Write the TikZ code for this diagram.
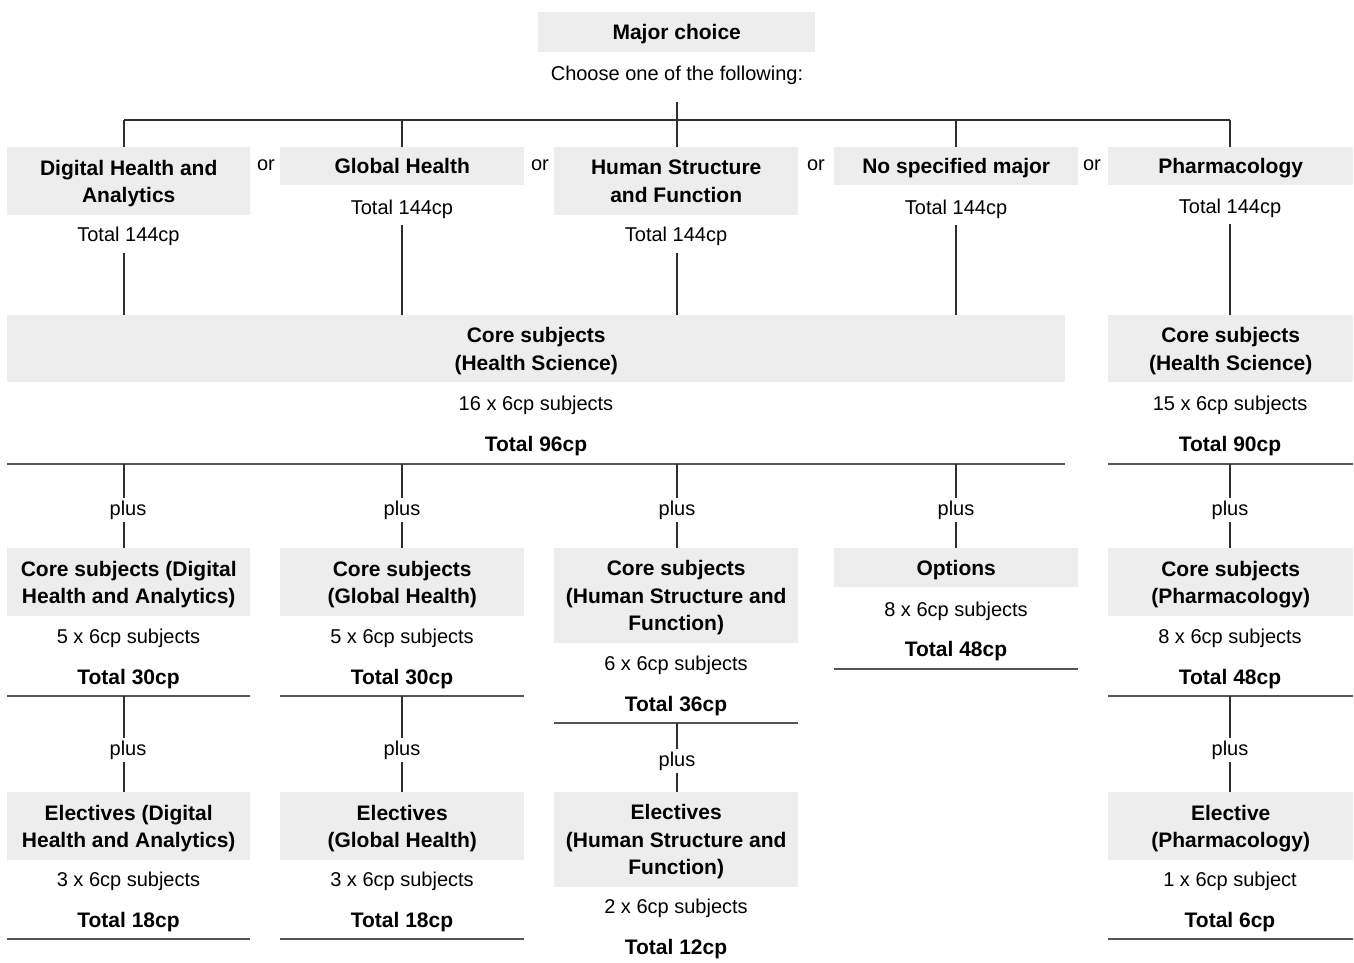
\documentclass[tikz,border=0pt]{standalone}
\usepackage{fontspec}
\setmainfont{Liberation Sans}
\usetikzlibrary{calc}
\definecolor{boxgray}{HTML}{EDEDED}
\definecolor{linec}{HTML}{2E2E2E}
\definecolor{rulec}{HTML}{555555}
\begin{document}
\begin{tikzpicture}[x=1pt,y=-1pt,
  box/.style={fill=boxgray, inner sep=0pt, anchor=north west, align=center, text depth=0pt,
    font=\fontsize{21}{27.5}\selectfont\bfseries, text=black},
  txt/.style={inner sep=0pt, text depth=0pt, font=\fontsize{20}{24}\selectfont, anchor=center},
  btxt/.style={inner sep=0pt, text depth=0pt, font=\fontsize{21}{24}\selectfont\bfseries, anchor=center},
  plusl/.style={inner xsep=0pt, inner ysep=2pt, font=\fontsize{20}{24}\selectfont, anchor=center},
  conn/.style={draw=linec, line width=1.2pt},
  rulel/.style={draw=rulec, line width=1.6pt}
]
\useasboundingbox (0,0) rectangle (1354,963);
% column x positions for connectors
\coordinate (X1) at (124,0);
\coordinate (X2) at (402,0);
\coordinate (X3) at (677,0);
\coordinate (X4) at (956,0);
\coordinate (X5) at (1230,0);

% top
\node[box, minimum width=277, minimum height=40] (major) at (538,12) {Major choice};
\node[txt] (choose) at (677,73) {Choose one of the following:};
\coordinate (topstart) at (677,102);
\coordinate (junction) at (677,120);

% row 1
\node[box, minimum width=243, minimum height=68] (dha) at (7,147) {Digital Health and\\Analytics};
\node[box, minimum width=244, minimum height=38] (gh) at (280,147) {Global Health};
\node[box, minimum width=244, minimum height=68] (hsf) at (554,147) {Human Structure\\and Function};
\node[box, minimum width=244, minimum height=38] (nsm) at (834,147) {No specified major};
\node[box, minimum width=245, minimum height=38] (ph) at (1108,147) {Pharmacology};
\node[txt] (t1) at (128.5,234) {Total 144cp};
\node[txt] (t2) at (402,207) {Total 144cp};
\node[txt] (t3) at (676,234) {Total 144cp};
\node[txt] (t4) at (956,207) {Total 144cp};
\node[txt] (t5) at (1230,206) {Total 144cp};
\node[txt] (or1) at (266,165) {or};
\node[txt] (or2) at (540,165) {or};
\node[txt] (or3) at (816,165) {or};
\node[txt] (or4) at (1092,165) {or};

\draw[conn] (topstart) -- (junction);
\draw[conn] (X1 |- junction) -- (X5 |- junction);
\draw[conn] (X1 |- junction) -- (X1 |- dha.north);
\draw[conn] (X2 |- junction) -- (X2 |- gh.north);
\draw[conn] (X3 |- junction) -- (X3 |- hsf.north);
\draw[conn] (X4 |- junction) -- (X4 |- nsm.north);
\draw[conn] (X5 |- junction) -- (X5 |- ph.north);

% row 2
\node[box, minimum width=1058, minimum height=67] (core) at (7,315) {Core subjects\\(Health Science)};
\node[box, minimum width=245, minimum height=67] (corep) at (1108,315) {Core subjects\\(Health Science)};
\node[txt] (coren) at (536,403) {16 x 6cp subjects};
\node[btxt] (coret) at (536,444) {Total 96cp};
\node[txt] (corepn) at (1230,403) {15 x 6cp subjects};
\node[btxt] (corept) at (1230,444) {Total 90cp};
\coordinate (r2a) at (7,464); \coordinate (r2b) at (1065,464);
\coordinate (r2c) at (1108,464); \coordinate (r2d) at (1353,464);
\draw[rulel] (r2a) -- (r2b);
\draw[rulel] (r2c) -- (r2d);

\draw[conn] ($(X1 |- t1.south)+(0,12)$) -- (X1 |- core.north);
\draw[conn] ($(X2 |- t2.south)+(0,11)$) -- (X2 |- core.north);
\draw[conn] ($(X3 |- t3.south)+(0,12)$) -- (X3 |- core.north);
\draw[conn] ($(X4 |- t4.south)+(0,11)$) -- (X4 |- core.north);
\draw[conn] ($(X5 |- t5.south)+(0,11)$) -- (X5 |- corep.north);

% row 3
\node[box, minimum width=243, minimum height=68] (a3) at (7,548) {Core subjects (Digital\\Health and Analytics)};
\node[box, minimum width=244, minimum height=68] (b3) at (280,548) {Core subjects\\(Global Health)};
\node[box, minimum width=244, minimum height=95] (c3) at (554,548) {Core subjects\\(Human Structure and\\Function)};
\node[box, minimum width=244, minimum height=39] (d3) at (834,548) {Options};
\node[box, minimum width=245, minimum height=68] (e3) at (1108,548) {Core subjects\\(Pharmacology)};
\node[txt] (a3n) at (128.5,636) {5 x 6cp subjects};
\node[btxt] (a3t) at (128.5,677) {Total 30cp};
\node[txt] (b3n) at (402,636) {5 x 6cp subjects};
\node[btxt] (b3t) at (402,677) {Total 30cp};
\node[txt] (c3n) at (676,663) {6 x 6cp subjects};
\node[btxt] (c3t) at (676,704) {Total 36cp};
\node[txt] (d3n) at (956,609) {8 x 6cp subjects};
\node[btxt] (d3t) at (956,649) {Total 48cp};
\node[txt] (e3n) at (1230,636) {8 x 6cp subjects};
\node[btxt] (e3t) at (1230,677) {Total 48cp};
\coordinate (ra1) at (7,696); \coordinate (ra2) at (250,696);
\coordinate (rb1) at (280,696); \coordinate (rb2) at (524,696);
\coordinate (rc1) at (554,723); \coordinate (rc2) at (798,723);
\coordinate (rd1) at (834,669); \coordinate (rd2) at (1078,669);
\coordinate (re1) at (1108,696); \coordinate (re2) at (1353,696);
\draw[rulel] (ra1) -- (ra2);
\draw[rulel] (rb1) -- (rb2);
\draw[rulel] (rc1) -- (rc2);
\draw[rulel] (rd1) -- (rd2);
\draw[rulel] (re1) -- (re2);

% plus row 2->3
\node[plusl] (p1) at (128,510) {plus};
\node[plusl] (p2) at (402,510) {plus};
\node[plusl] (p3) at (677,510) {plus};
\node[plusl] (p4) at (956,510) {plus};
\node[plusl] (p5) at (1230,510) {plus};
\draw[conn] (X1 |- r2a) -- (X1 |- p1.north) (X1 |- p1.south) -- (X1 |- a3.north);
\draw[conn] (X2 |- r2a) -- (X2 |- p2.north) (X2 |- p2.south) -- (X2 |- b3.north);
\draw[conn] (X3 |- r2a) -- (X3 |- p3.north) (X3 |- p3.south) -- (X3 |- c3.north);
\draw[conn] (X4 |- r2a) -- (X4 |- p4.north) (X4 |- p4.south) -- (X4 |- d3.north);
\draw[conn] (X5 |- r2c) -- (X5 |- p5.north) (X5 |- p5.south) -- (X5 |- e3.north);

% row 4
\node[box, minimum width=243, minimum height=68] (a4) at (7,792) {Electives (Digital\\Health and Analytics)};
\node[box, minimum width=244, minimum height=68] (b4) at (280,792) {Electives\\(Global Health)};
\node[box, minimum width=244, minimum height=95] (c4) at (554,792) {Electives\\(Human Structure and\\Function)};
\node[box, minimum width=245, minimum height=68] (e4) at (1108,792) {Elective\\(Pharmacology)};
\node[txt] (a4n) at (128.5,879) {3 x 6cp subjects};
\node[btxt] (a4t) at (128.5,920) {Total 18cp};
\node[txt] (b4n) at (402,879) {3 x 6cp subjects};
\node[btxt] (b4t) at (402,920) {Total 18cp};
\node[txt] (c4n) at (676,906) {2 x 6cp subjects};
\node[btxt] (c4t) at (676,947) {Total 12cp};
\node[txt] (e4n) at (1230,879) {1 x 6cp subject};
\node[btxt] (e4t) at (1230,920) {Total 6cp};
\coordinate (sa1) at (7,939); \coordinate (sa2) at (250,939);
\coordinate (sb1) at (280,939); \coordinate (sb2) at (524,939);
\coordinate (se1) at (1108,939); \coordinate (se2) at (1353,939);
\draw[rulel] (sa1) -- (sa2);
\draw[rulel] (sb1) -- (sb2);
\draw[rulel] (se1) -- (se2);

% plus row 3->4
\node[plusl] (q1) at (128,750) {plus};
\node[plusl] (q2) at (402,750) {plus};
\node[plusl] (q3) at (677,761) {plus};
\node[plusl] (q5) at (1230,750) {plus};
\draw[conn] (X1 |- ra1) -- (X1 |- q1.north) (X1 |- q1.south) -- (X1 |- a4.north);
\draw[conn] (X2 |- rb1) -- (X2 |- q2.north) (X2 |- q2.south) -- (X2 |- b4.north);
\draw[conn] (X3 |- rc1) -- (X3 |- q3.north) (X3 |- q3.south) -- (X3 |- c4.north);
\draw[conn] (X5 |- re1) -- (X5 |- q5.north) (X5 |- q5.south) -- (X5 |- e4.north);
\end{tikzpicture}
\end{document}
